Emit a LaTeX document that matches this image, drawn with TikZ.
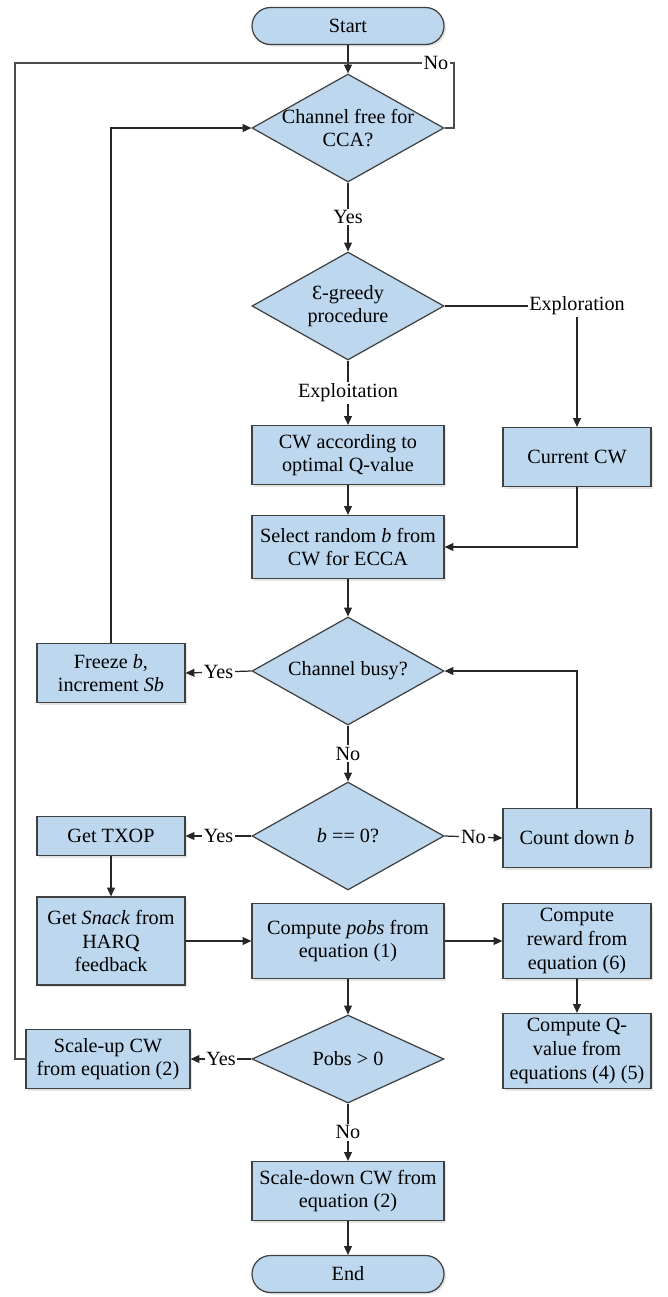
\documentclass[tikz,border=0pt]{standalone}
\usepackage{fontspec}
\setmainfont{Liberation Serif}
\usetikzlibrary{shapes.geometric,arrows.meta,shadows}
\definecolor{boxblue}{RGB}{189,215,238}

\begin{document}
\begin{tikzpicture}[x=0.2mm,y=-0.2mm,line width=0.7pt,
  font=\fontsize{11.5}{13.5}\selectfont,
  flow/.style={draw=black!85,-{Triangle[length=5pt,width=4.5pt]}},
  plain/.style={draw=black!70}]

    % `process' is used for most steps.
    % `decision' holds the questions, its text is put in as a label.
    % `terminal' is used for start and end.
    \tikzstyle{process} = [draw=black!75,fill=boxblue,minimum width=38.4mm,
      minimum height=11.8mm,align=center,inner sep=1pt,
      drop shadow={shadow xshift=0.4mm,shadow yshift=-0.4mm,fill=black!20}]
    \tikzstyle{sidebox} = [process,minimum width=29.6mm]
    \tikzstyle{decision} = [draw=black!75,fill=boxblue,shape=diamond,
      minimum width=38.4mm,minimum height=21.6mm,inner sep=0pt]
    \tikzstyle{terminal} = [process,rounded corners=3.7mm,minimum height=7.4mm]
    \tikzstyle{tag} = [fill=white,inner sep=1pt]
    %
    \useasboundingbox (0,0) rectangle (668,1297);

    % Main column.
    \node[terminal] (start) at (348,26) {Start};
    \node[decision,label={[align=center]center:Channel free for\\CCA?}] (cca) at (348,128) {};
    \node[decision,label={[align=center]center:Ɛ-greedy\\procedure}] (greedy) at (348,306) {};
    \node[process] (exploit) at (348,455) {CW according to\\optimal Q-value};
    \node[process,minimum height=12.6mm] (select) at (348,547) {Select random \textit{b} from\\CW for ECCA};
    \node[decision,label={center:Channel busy?}] (busy) at (348,671) {};
    \node[decision,label={center:\textit{b} == 0?}] (zero) at (348,836) {};
    \node[process,minimum height=15mm] (pobs) at (348,941) {Compute \textit{pobs} from\\equation (1)};
    \node[decision,minimum height=17.6mm,label={center:Pobs > 0}] (check) at (348,1059) {};
    \node[process] (scaledown) at (348,1191) {Scale-down CW from\\equation (2)};
    \node[terminal] (finish) at (348,1274) {End};

    % Left column.
    \node[sidebox] (freeze) at (111,673) {Freeze \textit{b},\\increment \textit{Sb}};
    \node[sidebox,minimum height=7.8mm] (txop) at (111,836) {Get TXOP};
    \node[sidebox,minimum height=17.6mm] (snack) at (111,941) {Get \textit{Snack} from\\HARQ\\feedback};
    \node[process,minimum width=32.8mm] (scaleup) at (108,1059) {Scale-up CW\\from equation (2)};

    % Right column.
    \node[sidebox] (current) at (577,457) {Current CW};
    \node[sidebox] (count) at (577,838) {Count down \textit{b}};
    \node[sidebox,minimum height=15mm] (reward) at (577,941) {Compute\\reward from\\equation (6)};
    \node[sidebox,minimum height=15mm] (qval) at (577,1051) {Compute Q-\\value from\\equations (4) (5)};

    % Loop points.
    \coordinate (merge) at (348,63);
    \coordinate (noturn) at (454,63);
    \coordinate (farleft) at (15,63);

    % Draw lines.
    \draw[flow] (start) -- (cca);
    \draw[plain] (cca.east) -| (noturn) -- node[tag,pos=0.17] {No} (merge);
    \draw[plain] (scaleup.west) -| (farleft) -- (merge);
    \draw[flow] (cca) -- node[tag] {Yes} (greedy);
    \draw[flow] (greedy) -- node[tag] {Exploitation} (exploit);
    \draw[flow] (greedy.east) -| node[tag,pos=0.5] {Exploration} (current.north);
    \draw[flow] (exploit) -- (select);
    \draw[flow] (current.south) |- (select.east);
    \draw[flow] (select) -- (busy);
    \draw[flow] (busy.west) -- node[tag] {Yes} (freeze.east);
    \draw[flow] (freeze.north) |- (cca.west);
    \draw[flow] (busy) -- node[tag] {No} (zero);
    \draw[flow] (zero.west) -- node[tag] {Yes} (txop.east);
    \draw[flow] (zero.east) -- node[tag] {No} (count.west);
    \draw[flow] (count.north) |- (busy.east);
    \draw[flow] (txop) -- (snack);
    \draw[flow] (snack) -- (pobs);
    \draw[flow] (pobs) -- (reward);
    \draw[flow] (reward) -- (qval);
    \draw[flow] (pobs) -- (check);
    \draw[flow] (check.west) -- node[tag] {Yes} (scaleup.east);
    \draw[flow] (check) -- node[tag] {No} (scaledown);
    \draw[flow] (scaledown) -- (finish);
    %
\end{tikzpicture}
\end{document}
